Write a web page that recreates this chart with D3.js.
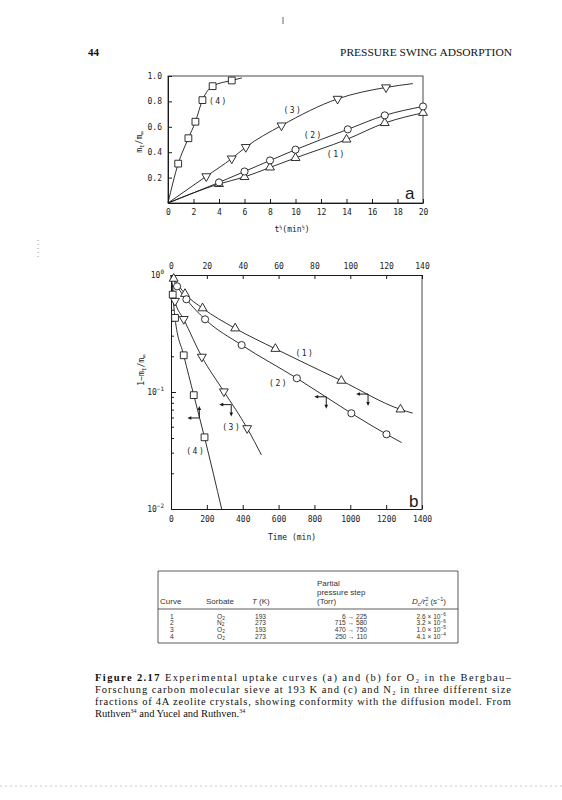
<!DOCTYPE html>
<html>
<head>
<meta charset="utf-8">
<script src="https://cdn.jsdelivr.net/npm/d3@7"></script>
<style>
  body { margin: 0; background: #fff; }
  svg { display: block; }
  .tick text, .lbl { font-family: "DejaVu Sans Mono", monospace; font-size: 8px; fill: #222; }
  .tbl { font-family: "Liberation Sans", Arial, sans-serif; font-size: 8px; fill: #333; }
  .row { font-size: 6.6px; }
  .serif { font-family: "Liberation Serif", "Times New Roman", serif; fill: #111; }
</style>
</head>
<body>
<svg id="page" width="562" height="800"></svg>
<script>
// ---------- data : panel a (m_t/m_inf vs t^0.5) ----------
const aXTicks = [0, 2, 4, 6, 8, 10, 12, 14, 16, 18, 20];
const aYTicks = [0.2, 0.4, 0.6, 0.8, 1.0];
const aCurve1 = [[4, 0.15], [6, 0.205], [8, 0.28], [10, 0.355], [14, 0.5], [17, 0.63], [20, 0.71]];
const aCurve2 = [[4, 0.162], [6, 0.248], [8, 0.335], [10, 0.42], [14.1, 0.58], [17, 0.69], [20, 0.76]];
const aCurve3 = [[3, 0.21], [5, 0.35], [6.1, 0.44], [8.9, 0.61], [13.3, 0.82], [17.1, 0.91]];
const aCurve4 = [[0.8, 0.31], [1.6, 0.51], [2.15, 0.64], [2.7, 0.81], [3.5, 0.92], [5, 0.965]];
const aEnds = [[20, 0.71], [20, 0.76], [19.2, 0.94], [5.8, 0.985]];
const aLabels = [[13.2, 0.386, "(1)"], [11.4, 0.535, "(2)"], [9.8, 0.727, "(3)"], [3.95, 0.8, "(4)"]];

// ---------- data : panel b (1 - m_t/m_inf vs time) ----------
const bBottomTicks = [0, 200, 400, 600, 800, 1000, 1200, 1400];
const bTopTicks = [0, 20, 40, 60, 80, 100, 120, 140];
const bCurve1 = [[15, 0.93], [78, 0.69], [176, 0.52], [358, 0.35], [582, 0.234], [950, 0.125], [1280, 0.071]];
const bCurve2 = [[34, 0.8], [86, 0.62], [190, 0.418], [394, 0.252], [702, 0.131], [1006, 0.0658], [1202, 0.0435]];
const bCurve3 = [[22, 0.6], [71, 0.42], [172, 0.2], [295, 0.101], [425, 0.049]];
const bCurve4 = [[0.95, 0.68], [2.24, 0.43], [7.1, 0.206], [12.7, 0.094], [18.7, 0.041]]; // top axis (min)
const bEnds = [[1348, 0.066], [1286, 0.037], [504, 0.029], [28.4, 0.0098]];
// corner of the arrow pair on each curve : t, y, vertical direction
const bArrows = [[1099, 0.096, 1], [866, 0.091, 1], [336, 0.078, 1], [15.8, 0.06, -1]];
const bLabels = [[747, 0.215, "(1)"], [600, 0.118, "(2)"], [339, 0.0505, "(3)"], [138, 0.031, "(4)"]];

// ---------- data : table ----------
const tblCurve = ["1", "2", "3", "4"];
const tblSorbate = ["O", "N", "O", "O"];
const tblT = ["193", "273", "193", "273"];
const tblStep = ["6 \u2192 225", "715 \u2192 580", "470 \u2192 750", "250 \u2192 110"];
const tblMant = ["2.6", "3.2", "1.0", "4.1"];
const tblExp = ["\u22126", "\u22126", "\u22125", "\u22124"];

const svg = d3.select("#page");
const ink = "#1a1a1a";

const symbols = [
  d3.symbol().type(d3.symbolTriangle).size(34),
  d3.symbol().type(d3.symbolCircle).size(40),
  d3.symbol().type(d3.symbolTriangle).size(34),
  d3.symbol().type(d3.symbolSquare).size(46)
];

function drawMarks(g, pts, sx, sy, idx) {
  g.selectAll(null).data(pts).join("path")
    .attr("d", symbols[idx])
    .attr("transform", d => `translate(${sx(d[0])},${sy(d[1])})` + (idx === 2 ? " rotate(180)" : ""))
    .attr("fill", "#fff").attr("stroke", ink).attr("stroke-width", 0.9);
}

function styleAxis(g) {
  g.selectAll(".domain").attr("stroke", ink);
  g.selectAll(".tick line").attr("stroke", ink);
  g.selectAll(".tick text").attr("fill", "#222");
  g.attr("font-family", null).attr("font-size", null);
}

// ================= panel a =================
const xA = d3.scaleLinear([0, 20], [168, 423]);
const yA = d3.scaleLinear([0, 1], [203, 76]);
const ga = svg.append("g");

ga.append("rect").attr("x", xA(0)).attr("y", yA(1)).attr("width", xA(20) - xA(0)).attr("height", yA(0) - yA(1))
  .attr("fill", "none").attr("stroke", ink).attr("stroke-width", 0.8);

ga.append("g").attr("transform", `translate(0,${yA(0)})`)
  .call(d3.axisBottom(xA).tickValues(aXTicks).tickSize(-4).tickSizeOuter(0).tickPadding(6).tickFormat(d3.format("d")))
  .call(styleAxis);
ga.append("g").attr("transform", `translate(${xA(0)},0)`)
  .call(d3.axisLeft(yA).tickValues(aYTicks).tickSize(-4).tickSizeOuter(0).tickPadding(6).tickFormat(d3.format(".1f")))
  .call(styleAxis);

const lineA = d3.line().x(d => xA(d[0])).y(d => yA(d[1])).curve(d3.curveMonotoneX);
[aCurve1, aCurve2, aCurve3, aCurve4].forEach((c, i) => {
  ga.append("path").attr("d", lineA([[0, 0], ...c, aEnds[i]]))
    .attr("fill", "none").attr("stroke", ink).attr("stroke-width", 0.9);
});
[aCurve1, aCurve2, aCurve3, aCurve4].forEach((c, i) => drawMarks(ga, c, xA, yA, i));

ga.selectAll(null).data(aLabels).join("text").attr("class", "lbl")
  .attr("x", d => xA(d[0])).attr("y", d => yA(d[1])).attr("dy", "0.35em")
  .attr("text-anchor", "middle").attr("letter-spacing", 1.5).text(d => d[2]);

ga.append("text").attr("x", 405).attr("y", 199).attr("font-family", "Liberation Sans, Arial")
  .attr("font-size", 17).attr("fill", ink).text("a");

// axis titles a
const ya = ga.append("text").attr("class", "lbl").attr("transform", "translate(142,142) rotate(-90)")
  .attr("text-anchor", "middle");
ya.append("tspan").text("m");
ya.append("tspan").attr("dy", 2).attr("font-size", 6).text("t");
ya.append("tspan").attr("dy", -2).text("/m");
ya.append("tspan").attr("dy", 2).attr("font-size", 6).text("\u221e");

const xa = ga.append("text").attr("class", "lbl").attr("x", 292).attr("y", 232).attr("text-anchor", "middle");
xa.append("tspan").text("t");
xa.append("tspan").attr("dy", -3).attr("font-size", 5).text("\u00bd");
xa.append("tspan").attr("dy", 3).text("(min");
xa.append("tspan").attr("dy", -3).attr("font-size", 5).text("\u00bd");
xa.append("tspan").attr("dy", 3).text(")");

// ================= panel b =================
const xB = d3.scaleLinear([0, 1400], [171, 422]);
const xBt = d3.scaleLinear([0, 140], [171, 422]);
const yB = d3.scaleLog([0.01, 1], [509, 275]);
const gb = svg.append("g");

gb.append("line").attr("x1", xB(1400)).attr("x2", xB(1400)).attr("y1", yB(1)).attr("y2", yB(0.01))
  .attr("stroke", ink).attr("stroke-width", 0.8);

gb.append("g").attr("transform", `translate(0,${yB(0.01)})`)
  .call(d3.axisBottom(xB).tickValues(bBottomTicks).tickSize(-4).tickSizeOuter(0).tickPadding(7).tickFormat(d3.format("d")))
  .call(styleAxis);
gb.append("g").attr("transform", `translate(0,${yB(1)})`)
  .call(d3.axisTop(xBt).tickValues(bTopTicks).tickSize(-4).tickSizeOuter(0).tickPadding(6).tickFormat(d3.format("d")))
  .call(styleAxis);

const minor = [];
[0.01, 0.1].forEach(dec => { for (let k = 2; k <= 9; k++) minor.push(dec * k); });
const yAxB = gb.append("g").attr("transform", `translate(${xB(0)},0)`)
  .call(d3.axisLeft(yB).tickValues([0.01, 0.1, 1]).tickSize(-5).tickSizeOuter(0).tickFormat(""))
  .call(styleAxis);
yAxB.selectAll(null).data(minor).join("line")
  .attr("x1", 0).attr("x2", 3).attr("y1", d => yB(d)).attr("y2", d => yB(d)).attr("stroke", ink);

const decLabels = [[1, "0"], [0.1, "\u22121"], [0.01, "\u22122"]];
decLabels.forEach(([v, e]) => {
  const t = gb.append("text").attr("class", "lbl").attr("x", 164).attr("y", yB(v) + 3).attr("text-anchor", "end");
  t.append("tspan").text("10");
  t.append("tspan").attr("dy", -4).attr("font-size", 6).text(e);
});

const lineB = (sx) => d3.line().x(d => sx(d[0])).y(d => yB(d[1])).curve(d3.curveMonotoneX);
const bCurves = [bCurve1, bCurve2, bCurve3, bCurve4];
bCurves.forEach((c, i) => {
  const sx = i === 3 ? xBt : xB;
  gb.append("path").attr("d", lineB(sx)([[0, 1], ...c, bEnds[i]]))
    .attr("fill", "none").attr("stroke", ink).attr("stroke-width", 0.9);
});
bCurves.forEach((c, i) => drawMarks(gb, c, i === 3 ? xBt : xB, yB, i));

// arrow pairs
bArrows.forEach((a, i) => {
  const sx = i === 3 ? xBt : xB;
  const cx = sx(a[0]), cy = yB(a[1]);
  const hx = cx - 12, vy = cy + a[2] * 12;
  gb.append("line").attr("x1", cx).attr("y1", cy).attr("x2", hx + 2).attr("y2", cy).attr("stroke", ink);
  gb.append("path").attr("d", `M${hx},${cy}l4,-1.8v3.6z`).attr("fill", ink);
  gb.append("line").attr("x1", cx).attr("y1", cy).attr("x2", cx).attr("y2", vy - a[2] * 2).attr("stroke", ink);
  gb.append("path").attr("d", `M${cx},${vy}l-1.8,${-a[2] * 4}h3.6z`).attr("fill", ink);
});

gb.selectAll(null).data(bLabels).join("text").attr("class", "lbl")
  .attr("x", d => xB(d[0])).attr("y", d => yB(d[1])).attr("dy", "0.35em")
  .attr("text-anchor", "middle").attr("letter-spacing", 1.5).text(d => d[2]);

gb.append("text").attr("x", 409).attr("y", 507).attr("font-family", "Liberation Sans, Arial")
  .attr("font-size", 17).attr("fill", ink).text("b");

const yb = gb.append("text").attr("class", "lbl").attr("transform", "translate(144,370) rotate(-90)")
  .attr("text-anchor", "middle");
yb.append("tspan").text("1\u2212m");
yb.append("tspan").attr("dy", 2).attr("font-size", 6).text("t");
yb.append("tspan").attr("dy", -2).text("/m");
yb.append("tspan").attr("dy", 2).attr("font-size", 6).text("\u221e");

gb.append("text").attr("class", "lbl").attr("x", 292).attr("y", 540).attr("text-anchor", "middle").text("Time (min)");

// ================= table =================
const gt = svg.append("g");
const tL = 158, tR = 458, tTop = 571, tHead = 609, tBot = 643;
[[tL, tTop, tR, tTop], [tL, tHead, tR, tHead], [tL, tBot, tR, tBot], [tL, tTop, tL, tBot], [tR, tTop, tR, tBot]]
  .forEach(l => gt.append("line").attr("x1", l[0]).attr("y1", l[1]).attr("x2", l[2]).attr("y2", l[3])
    .attr("stroke", "#333").attr("stroke-width", 0.8));

const head = (x, y, s, anchor) => gt.append("text").attr("class", "tbl").attr("x", x).attr("y", y)
  .attr("text-anchor", anchor || "start").text(s);
head(317, 586, "Partial");
head(317, 595, "pressure step");
head(160, 604, "Curve");
head(206, 604, "Sorbate");
const th = head(252, 604, "");
th.append("tspan").attr("font-style", "italic").text("T");
th.append("tspan").text(" (K)");
head(317, 604, "(Torr)");
const dh = head(446, 604, "", "end");
dh.append("tspan").attr("font-style", "italic").text("D");
dh.append("tspan").attr("font-size", 5.5).attr("dy", 1.5).attr("font-style", "italic").text("c");
dh.append("tspan").attr("dy", -1.5).attr("font-style", "italic").text("/r");
dh.append("tspan").attr("font-size", 5.5).attr("dy", -3).text("2");
dh.append("tspan").attr("font-size", 5.5).attr("dx", -3).attr("dy", 4.5).attr("font-style", "italic").text("c");
dh.append("tspan").attr("dy", -1.5).text(" (");
dh.append("tspan").attr("font-style", "italic").text("s");
dh.append("tspan").attr("font-size", 5.5).attr("dy", -3).text("\u22121");
dh.append("tspan").attr("dy", 3).text(")");

const rowY = d3.scalePoint(d3.range(4), [618.5, 638.5]);
tblCurve.forEach((c, i) => {
  const y = rowY(i);
  head(170, y, c).classed("row", true);
  const s = head(217, y, tblSorbate[i]).classed("row", true);
  s.append("tspan").attr("font-size", 4.8).attr("dy", 1.2).text("2");
  head(255, y, tblT[i]).classed("row", true);
  head(367, y, tblStep[i], "end").classed("row", true);
  const d = head(446, y, tblMant[i] + " \u00d7 10", "end").classed("row", true);
  d.append("tspan").attr("font-size", 4.8).attr("dy", -2.5).text(tblExp[i]);
});

// ================= page text =================
svg.append("text").attr("class", "serif").attr("x", 88).attr("y", 56).attr("font-size", 11)
  .attr("font-weight", "bold").text("44");
svg.append("text").attr("class", "serif").attr("x", 512).attr("y", 56).attr("font-size", 11)
  .attr("text-anchor", "end").attr("textLength", 172).attr("lengthAdjust", "spacingAndGlyphs")
  .text("PRESSURE SWING ADSORPTION");

const capY = [681, 693, 705, 717];
const c1 = svg.append("text").attr("class", "serif").attr("x", 95).attr("y", capY[0]).attr("font-size", 10.5)
  .attr("textLength", 416).attr("lengthAdjust", "spacing");
c1.append("tspan").attr("font-weight", "bold").text("Figure 2.17");
c1.append("tspan").text("  Experimental uptake curves (a) and (b) for O\u2082 in the Bergbau\u2013");
svg.append("text").attr("class", "serif").attr("x", 95).attr("y", capY[1]).attr("font-size", 10.5)
  .attr("textLength", 416).attr("lengthAdjust", "spacing")
  .text("Forschung carbon molecular sieve at 193 K and (c) and N\u2082 in three different size");
svg.append("text").attr("class", "serif").attr("x", 95).attr("y", capY[2]).attr("font-size", 10.5)
  .attr("textLength", 416).attr("lengthAdjust", "spacing")
  .text("fractions of 4A zeolite crystals, showing conformity with the diffusion model. From");
const c4 = svg.append("text").attr("class", "serif").attr("x", 95).attr("y", capY[3]).attr("font-size", 10.5);
c4.append("tspan").text("Ruthven");
c4.append("tspan").attr("font-size", 6).attr("dy", -4).text("34");
c4.append("tspan").attr("dy", 4).text(" and Yucel and Ruthven.");
c4.append("tspan").attr("font-size", 6).attr("dy", -4).text("34");

// scan residue
svg.append("line").attr("x1", 0).attr("x2", 562).attr("y1", 786).attr("y2", 786)
  .attr("stroke", "#bbb").attr("stroke-width", 0.8).attr("stroke-dasharray", "2,3");
svg.append("line").attr("x1", 283).attr("x2", 283).attr("y1", 17).attr("y2", 24).attr("stroke", "#666");
svg.append("line").attr("x1", 38).attr("x2", 38).attr("y1", 240).attr("y2", 258)
  .attr("stroke", "#999").attr("stroke-dasharray", "1,3");
</script>
</body>
</html>
